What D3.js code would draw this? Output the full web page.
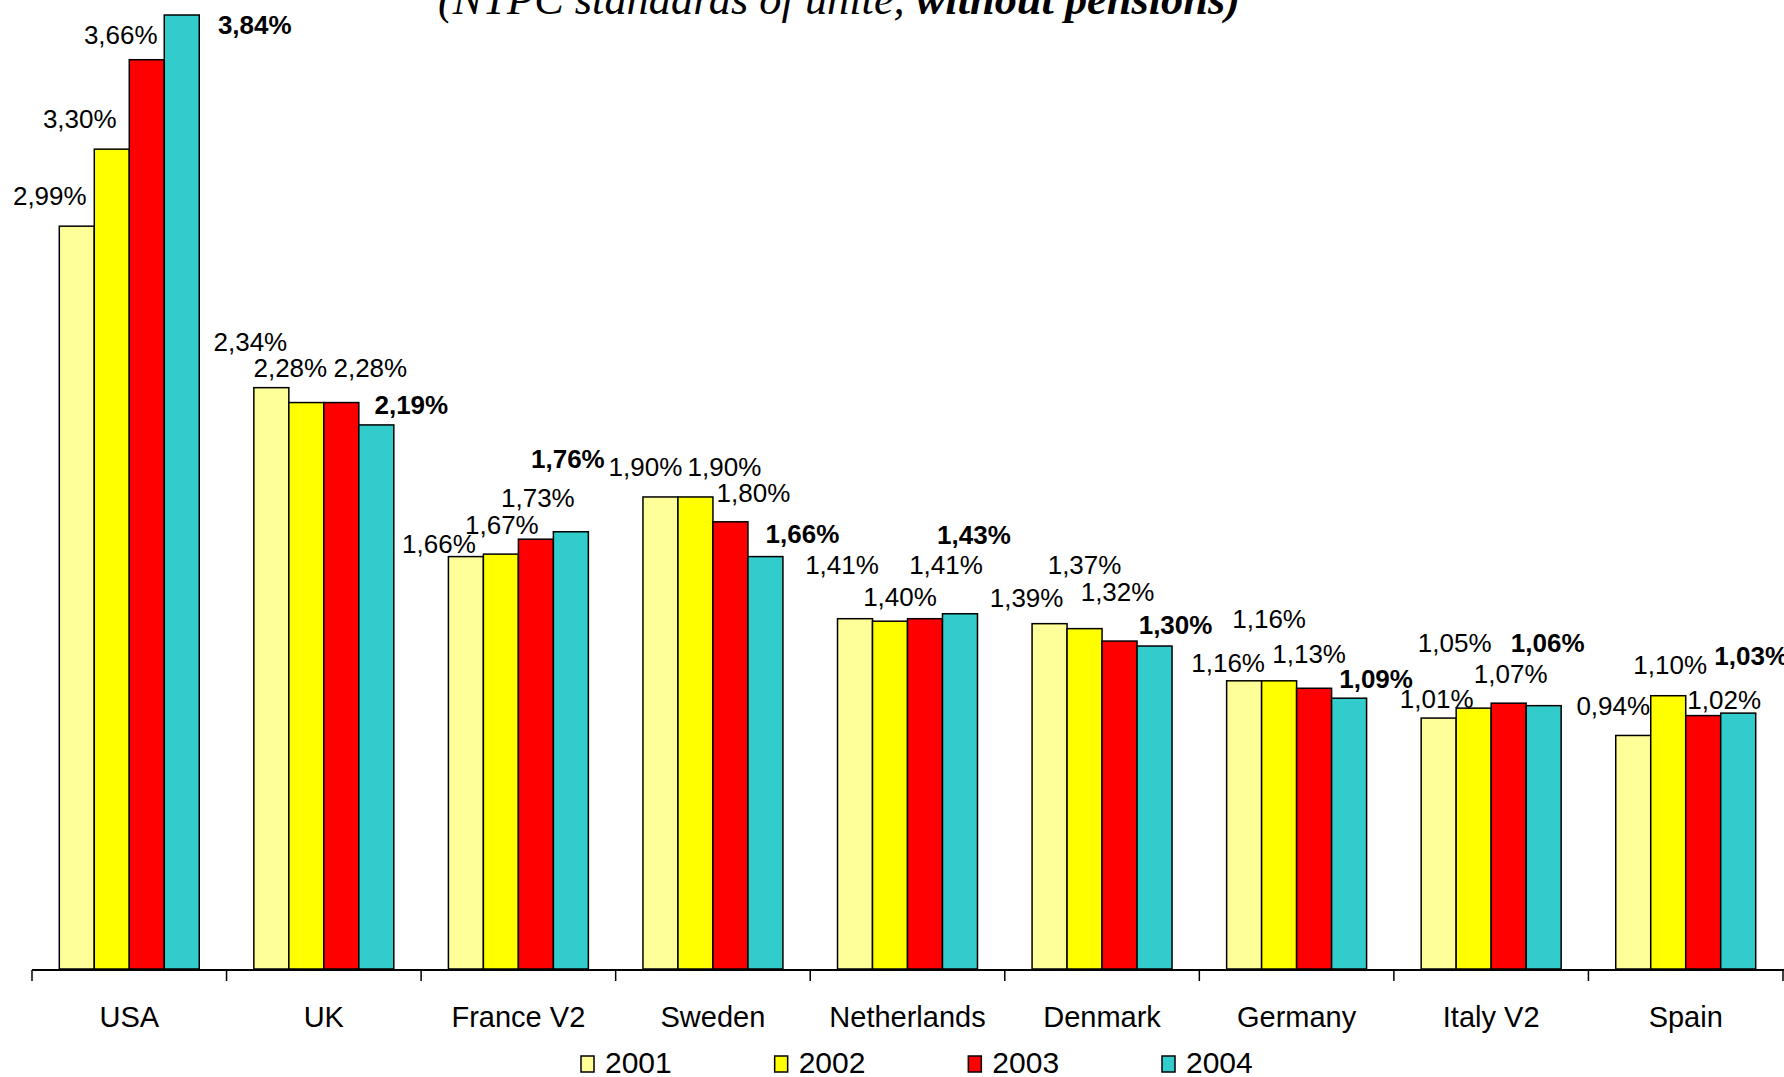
<!DOCTYPE html>
<html>
<head>
<meta charset="utf-8">
<script src="https://cdn.jsdelivr.net/npm/d3@7"></script>
<style>
  html, body { margin: 0; padding: 0; background: #fff; }
  svg { display: block; }
</style>
</head>
<body>
<svg id="chart" width="1784" height="1077"></svg>
<script>
// ---- data ----
const categories = ["USA", "UK", "France V2", "Sweden", "Netherlands", "Denmark", "Germany", "Italy V2", "Spain"];
const years = ["2001", "2002", "2003", "2004"];
const values2001 = [2.99, 2.34, 1.66, 1.90, 1.41, 1.39, 1.16, 1.01, 0.94];
const values2002 = [3.30, 2.28, 1.67, 1.90, 1.40, 1.37, 1.16, 1.05, 1.10];
const values2003 = [3.66, 2.28, 1.73, 1.80, 1.41, 1.32, 1.13, 1.07, 1.02];
const values2004 = [3.84, 2.19, 1.76, 1.66, 1.43, 1.30, 1.09, 1.06, 1.03];
const titleText1 = "(NTPC standards of unité, ";
const titleText2 = "without pensions)";

// ---- layout (label placement as in the original, relative to bar top-centre) ----
const labelOffsets = [
  [[-27,-31],[-32,-31],[-26,-25],[73,10]],
  [[-21,-46],[-16,-35],[29,-35],[35,-20]],
  [[-27,-13],[1,-29],[2,-42],[-3,-73]],
  [[-15,-30],[29,-30],[23,-29],[37,-23]],
  [[-13,-54],[10,-25],[21,-54],[14,-79]],
  [[-23,-26],[0,-64],[-2,-49],[21,-21]],
  [[-16,-18],[-10,-62],[-5,-35],[27,-20]],
  [[-2,-19],[-19,-66],[2,-30],[4,-63]],
  [[-20,-30],[2,-31],[21,-16],[13,-57]]
];
const colors = ["#FFFF99", "#FFFF00", "#FF0000", "#33CCCC"];

const series = [values2001, values2002, values2003, values2004];
const svg = d3.select("#chart");

const left = 32, right = 1783, baseY = 969, topY = 15;
const x0 = d3.scaleBand().domain(categories).range([left, right]).padding(0);
const x1 = d3.scaleBand().domain(years).range([0, x0.bandwidth()]).paddingInner(0).paddingOuter(0.78);
const y = d3.scaleLinear().domain([0, 3.84]).range([baseY, topY]);

const locale = d3.formatLocale({decimal: ",", thousands: ".", grouping: [3], currency: ["", ""]});
const fmt = v => locale.format(".2f")(v) + "%";

// title (top cut off by the frame, as in the original)
const title = svg.append("text")
  .attr("x", 839).attr("y", 14)
  .attr("text-anchor", "middle")
  .attr("font-family", "'Liberation Serif', 'DejaVu Serif', serif")
  .attr("font-style", "italic")
  .attr("font-size", 42);
title.append("tspan").text(titleText1);
title.append("tspan").attr("font-weight", "bold").text(titleText2);
const tw = title.node().getComputedTextLength();
if (tw > 0) title.attr("font-size", 42 * 802 / tw);

// bars
const groups = svg.append("g").selectAll("g")
  .data(categories)
  .join("g")
  .attr("transform", d => `translate(${x0(d)},0)`);

groups.selectAll("rect")
  .data((c, i) => years.map((yr, j) => ({yr, j, i, v: series[j][i]})))
  .join("rect")
  .attr("x", d => x1(d.yr))
  .attr("y", d => y(d.v))
  .attr("width", x1.bandwidth())
  .attr("height", d => baseY - y(d.v))
  .attr("fill", d => colors[d.j])
  .attr("stroke", "#000")
  .attr("stroke-width", 1.5);

// value labels
groups.selectAll("text")
  .data((c, i) => years.map((yr, j) => ({yr, j, i, v: series[j][i]})))
  .join("text")
  .attr("x", d => x1(d.yr) + x1.bandwidth() / 2 + labelOffsets[d.i][d.j][0])
  .attr("y", d => y(d.v) + labelOffsets[d.i][d.j][1])
  .attr("dy", "0.36em")
  .attr("text-anchor", "middle")
  .attr("font-family", "Arial, 'Liberation Sans', sans-serif")
  .attr("font-size", 26)
  .attr("font-weight", d => d.j === 3 ? "bold" : "normal")
  .attr("fill", "#000")
  .text(d => fmt(d.v));

// x axis
const axis = svg.append("g");
axis.append("line")
  .attr("x1", left).attr("x2", 1784)
  .attr("y1", baseY + 1).attr("y2", baseY + 1)
  .attr("stroke", "#000").attr("stroke-width", 2);
const tickPos = categories.map(c => x0(c)).concat([x0(categories[categories.length - 1]) + x0.bandwidth()]);
axis.selectAll("line.tick")
  .data(tickPos)
  .join("line")
  .attr("class", "tick")
  .attr("x1", d => d).attr("x2", d => d)
  .attr("y1", baseY + 1).attr("y2", baseY + 12)
  .attr("stroke", "#000").attr("stroke-width", 1.5);
axis.selectAll("text")
  .data(categories)
  .join("text")
  .attr("x", d => x0(d) + x0.bandwidth() / 2)
  .attr("y", 1027)
  .attr("text-anchor", "middle")
  .attr("font-family", "Arial, 'Liberation Sans', sans-serif")
  .attr("font-size", 29)
  .attr("fill", "#000")
  .text(d => d);

// legend
const legend = svg.append("g");
const legendX = d3.scalePoint().domain(years).range([581, 1162]);
const lg = legend.selectAll("g")
  .data(years)
  .join("g")
  .attr("transform", d => `translate(${legendX(d)},0)`);
lg.append("rect")
  .attr("x", 0).attr("y", 1056)
  .attr("width", 13).attr("height", 16)
  .attr("fill", (d, i) => colors[i])
  .attr("stroke", "#000").attr("stroke-width", 1.5);
lg.append("text")
  .attr("x", 24).attr("y", 1073)
  .attr("font-family", "Arial, 'Liberation Sans', sans-serif")
  .attr("font-size", 30)
  .attr("fill", "#000")
  .text(d => d);
</script>
</body>
</html>
